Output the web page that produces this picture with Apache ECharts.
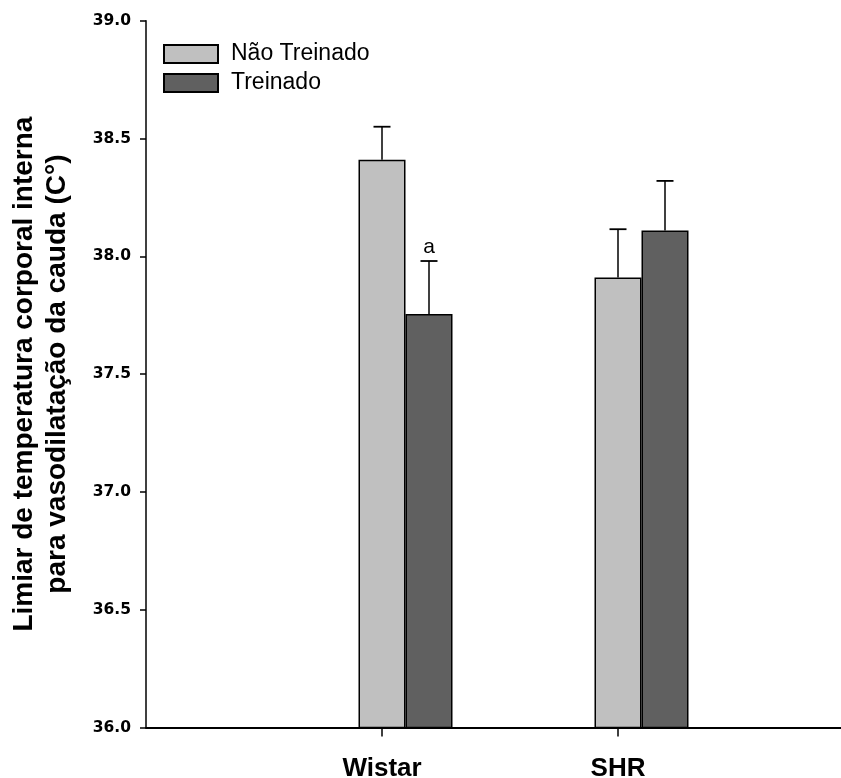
<!DOCTYPE html>
<html>
<head>
<meta charset="utf-8">
<script src="https://cdn.jsdelivr.net/npm/echarts@6/dist/echarts.min.js"></script>
<style>
  html, body { margin: 0; padding: 0; background: #fff; }
  #chart { width: 841px; height: 778px; }
</style>
</head>
<body>
<div id="chart"></div>
<script>
// ---- data ----
const categories = ['', 'Wistar', 'SHR', ''];
const seriesNames = ['Não Treinado', 'Treinado'];
const naoTreinado = ['-', 38.41, 37.91, '-'];
const naoTreinadoErr = ['-', 0.14, 0.205, '-'];
const treinado = ['-', 37.755, 38.11, '-'];
const treinadoErr = ['-', 0.225, 0.21, '-'];
const treinadoNotes = ['', 'a', '', ''];
const yTicks = [36.0, 36.5, 37.0, 37.5, 38.0, 38.5, 39.0];
const yTitle = 'Limiar de temperatura corporal interna\npara vasodilatação da cauda (C°)';

// ---- style ----
const BAR_W = 47;
const colors = ['#c0c0c0', '#606060'];

const chart = echarts.init(document.getElementById('chart'), null, { renderer: 'canvas' });

// error bar items: [categoryIndex, value, err, slot, note]
const errData = [];
categories.forEach((c, i) => {
  if (naoTreinado[i] !== '-') errData.push([i, naoTreinado[i], naoTreinadoErr[i], 0, '']);
  if (treinado[i] !== '-') errData.push([i, treinado[i], treinadoErr[i], 1, treinadoNotes[i]]);
});

const option = {
  animation: false,
  backgroundColor: '#ffffff',
  grid: { left: 146, top: 20.7, bottom: 50.5, width: 708, containLabel: false, outerBoundsMode: 'none' },
  legend: {
    data: seriesNames,
    orient: 'vertical',
    left: 158,
    top: 37.5,
    itemWidth: 54,
    itemHeight: 18,
    itemGap: 6,
    icon: 'rect',
    textStyle: { fontFamily: 'Liberation Sans, Arial, sans-serif', fontSize: 23, color: '#000', padding: [0, 0, 0, 8] }
  },
  xAxis: {
    type: 'category',
    data: categories,
    boundaryGap: false,
    axisLine: { show: true, lineStyle: { color: '#000', width: 2 } },
    axisTick: { show: true, length: 9, interval: (idx) => categories[idx] !== '', lineStyle: { color: '#000', width: 1.5 } },
    axisLabel: {
      interval: 0,
      margin: 28,
      fontFamily: 'Liberation Sans, Arial, sans-serif',
      fontWeight: 'bold',
      fontSize: 26,
      color: '#000'
    },
    splitLine: { show: false }
  },
  yAxis: {
    type: 'value',
    min: yTicks[0],
    max: yTicks[yTicks.length - 1],
    interval: 0.5,
    name: yTitle,
    nameLocation: 'middle',
    nameRotate: 90,
    nameGap: 72,
    nameTextStyle: { fontFamily: 'Liberation Sans, Arial, sans-serif', fontWeight: 'bold', fontSize: 28, lineHeight: 33, color: '#000' },
    axisLine: { show: true, lineStyle: { color: '#000', width: 1.5 } },
    axisTick: { show: true, inside: false, length: 6, lineStyle: { color: '#000', width: 1.5 } },
    axisLabel: {
      margin: 15,
      formatter: (v) => v.toFixed(1),
      fontFamily: 'DejaVu Sans, sans-serif',
      fontWeight: 'bold',
      fontSize: 15.5,
      color: '#000'
    },
    splitLine: { show: false }
  },
  series: [
    { name: '_spacer', type: 'bar', data: categories.map(() => '-'), barWidth: BAR_W, barGap: '0%', itemStyle: { opacity: 0 }, silent: true },
    { name: seriesNames[0], type: 'bar', data: naoTreinado, barWidth: BAR_W, barGap: '0%',
      itemStyle: { color: colors[0], borderColor: '#000', borderWidth: 1.5 } },
    { name: seriesNames[1], type: 'bar', data: treinado, barWidth: BAR_W, barGap: '0%',
      itemStyle: { color: colors[1], borderColor: '#000', borderWidth: 1.5 } },
    {
      name: 'err', type: 'custom', z: 10, silent: true,
      data: errData,
      encode: { x: 0, y: 1 },
      renderItem: function (params, api) {
        const ci = api.value(0);
        const v = api.value(1);
        const e = api.value(2);
        const slot = api.value(3);
        const note = errData[params.dataIndex][4];
        const base = api.coord([ci, v]);
        const top = api.coord([ci, v + e]);
        const x = base[0] + slot * BAR_W;
        const capHalf = 8.5;
        const children = [
          { type: 'line', shape: { x1: x, y1: base[1], x2: x, y2: top[1] }, style: { stroke: '#000', lineWidth: 1.5 } },
          { type: 'line', shape: { x1: x - capHalf, y1: top[1], x2: x + capHalf, y2: top[1] }, style: { stroke: '#000', lineWidth: 1.8 } }
        ];
        if (note) {
          children.push({ type: 'text', style: { text: note, x: x, y: top[1] - 3, align: 'center', verticalAlign: 'bottom',
            fontFamily: 'Liberation Sans, Arial, sans-serif', fontSize: 21, fill: '#000' } });
        }
        return { type: 'group', children: children };
      }
    }
  ]
};
chart.setOption(option);
</script>
</body>
</html>
